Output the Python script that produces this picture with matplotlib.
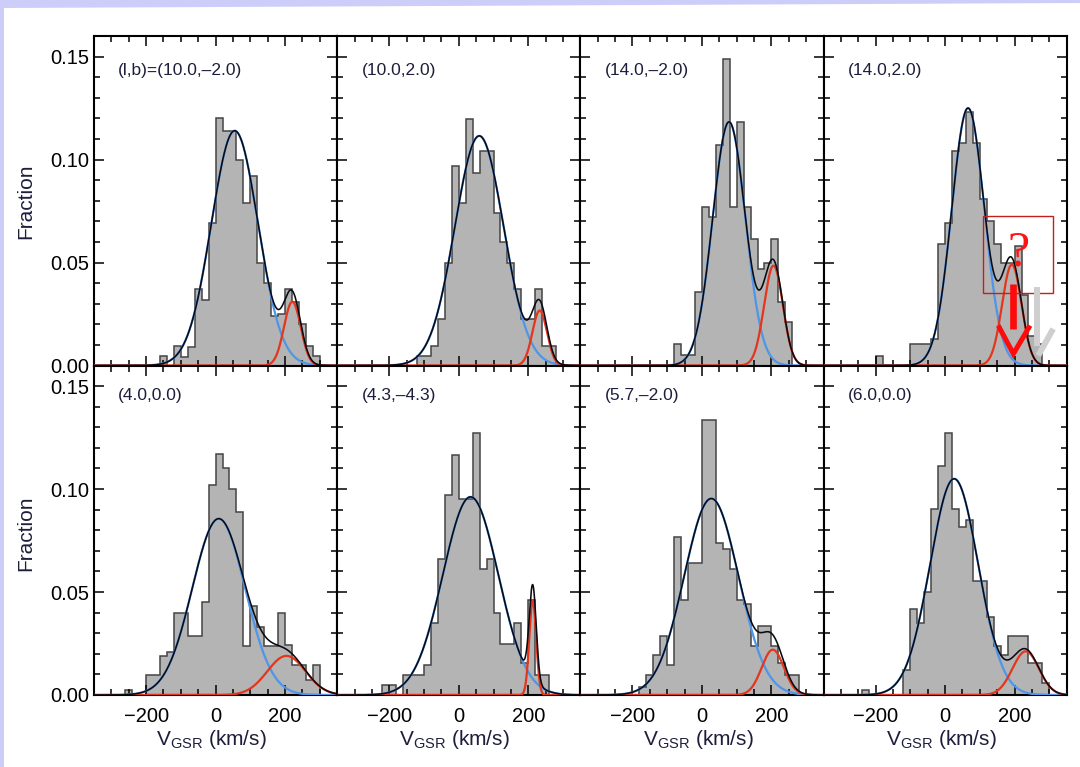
import numpy as np
import matplotlib
matplotlib.use("Agg")
import matplotlib.pyplot as plt
from matplotlib.patches import Rectangle, Polygon
from matplotlib.ticker import MultipleLocator, FormatStrFormatter

plt.rcParams['font.family'] = ['Liberation Sans', 'DejaVu Sans']
plt.rcParams['mathtext.fontset'] = 'custom'
plt.rcParams['mathtext.rm'] = 'Liberation Sans'
plt.rcParams['mathtext.it'] = 'Liberation Sans:italic'

# ---- field labels, (l,b) in degrees ----
labels = ["(l,b)=(10.0,\u20132.0)", "(10.0,2.0)", "(14.0,\u20132.0)", "(14.0,2.0)",
          "(4.0,0.0)", "(4.3,\u20134.3)", "(5.7,\u20132.0)", "(6.0,0.0)"]

BIN_WIDTH = 20.0  # km/s

# ---- velocity histograms (fraction per 20 km/s bin), first bin left edge ----
lo_10_m2 = -160
frac_10_m2 = [0.0045, 0.0, 0.0095, 0.004, 0.009, 0.037, 0.032, 0.069, 0.120, 0.114,
              0.114, 0.100, 0.079, 0.092, 0.050, 0.040, 0.024, 0.025, 0.037, 0.031,
              0.020, 0.0094, 0.0045]

lo_10_p2 = -120
frac_10_p2 = [0.0045, 0.0045, 0.0097, 0.0226, 0.050, 0.097, 0.079, 0.1196, 0.0937, 0.104,
              0.104, 0.074, 0.060, 0.050, 0.037, 0.0226, 0.0226, 0.037, 0.0094, 0.0094]

lo_14_m2 = -80
frac_14_m2 = [0.0105, 0.005, 0.005, 0.0355, 0.077, 0.072, 0.107, 0.149, 0.077, 0.118,
              0.077, 0.0614, 0.047, 0.050, 0.0614, 0.0307, 0.021]

lo_14_p2 = -200
frac_14_p2 = [0.0048, 0.0, 0.0, 0.0, 0.0, 0.0105, 0.0105, 0.0105, 0.013, 0.059,
              0.069, 0.104, 0.108, 0.123, 0.108, 0.081, 0.070, 0.059, 0.050, 0.050,
              0.058, 0.034, 0.0145, 0.0105]

lo_4_0 = -260
frac_4_0 = [0.0025, 0.0, 0.0, 0.0098, 0.0098, 0.019, 0.021, 0.040, 0.040, 0.0285,
            0.0285, 0.045, 0.102, 0.117, 0.110, 0.100, 0.089, 0.0236, 0.043, 0.033,
            0.0236, 0.0236, 0.040, 0.0245, 0.0147, 0.0147, 0.0073, 0.0147]

lo_43_m43 = -220
frac_43_m43 = [0.005, 0.005, 0.0, 0.0098, 0.0098, 0.0098, 0.0147, 0.035, 0.066, 0.097,
               0.1166, 0.095, 0.095, 0.127, 0.061, 0.066, 0.040, 0.025, 0.025, 0.035,
               0.0155, 0.046, 0.0098, 0.0098]

lo_57_m2 = -180
frac_57_m2 = [0.004, 0.0098, 0.0196, 0.0285, 0.0147, 0.0766, 0.046, 0.064, 0.064, 0.1337,
              0.1337, 0.074, 0.071, 0.061, 0.046, 0.044, 0.0236, 0.0334, 0.0334, 0.0236,
              0.0155, 0.0098, 0.0098]

lo_6_0 = -240
frac_6_0 = [0.0025, 0.0, 0.0, 0.0, 0.0, 0.0, 0.012, 0.042, 0.035, 0.050,
            0.0905, 0.111, 0.127, 0.0905, 0.0815, 0.0848, 0.0555, 0.0555, 0.038, 0.0236,
            0.0196, 0.0285, 0.0285, 0.0285, 0.0155, 0.0155, 0.006]

# ---- two-Gaussian fits: (amplitude, mean km/s, sigma km/s) ----
main_amp = [0.114, 0.1115, 0.1183, 0.125, 0.0856, 0.0962, 0.0954, 0.105]
main_mu = [55, 59, 78, 66, 9, 34, 27, 26]
main_sig = [67, 70, 47, 47, 76, 80, 78, 69]
cold_amp = [0.031, 0.0267, 0.0485, 0.049, 0.019, 0.0457, 0.022, 0.0212]
cold_mu = [221, 233, 206, 192, 204, 213, 204, 232]
cold_sig = [24, 21, 27, 28, 55, 10, 32, 38]

hist_lo = [lo_10_m2, lo_10_p2, lo_14_m2, lo_14_p2, lo_4_0, lo_43_m43, lo_57_m2, lo_6_0]
hist_frac = [frac_10_m2, frac_10_p2, frac_14_m2, frac_14_p2,
             frac_4_0, frac_43_m43, frac_57_m2, frac_6_0]

FILL = '#b4b4b4'
EDGE = '#444444'
BLUE = '#4f95e8'
RED = '#e2371c'
TXT = '#1e1e3c'

W, H = 1080, 767
fig = plt.figure(figsize=(W / 100, H / 100), dpi=100)

# slide frame: lavender strip along the top and left edges
fig.patches.append(Rectangle((0, 0), 1, 1, transform=fig.transFigure,
                             facecolor='#cdcdfa', edgecolor='none', zorder=-10))
fig.patches.append(Polygon([(4 / W, 0), (4 / W, 1 - 8 / H), (1, 1 - 3 / H), (1, 0)],
                           closed=True, transform=fig.transFigure,
                           facecolor='white', edgecolor='none', zorder=-9))

gs = fig.add_gridspec(2, 4, left=94 / W, right=1066.7 / W, top=1 - 36 / H,
                      bottom=1 - 695 / H, wspace=0, hspace=0)

vgrid = np.linspace(-350, 350, 1401)


def gauss(v, a, m, s):
    return a * np.exp(-0.5 * ((v - m) / s) ** 2)


axes = []
for i in range(8):
    r, c = divmod(i, 4)
    ax = fig.add_subplot(gs[r, c])
    axes.append(ax)

    vals = np.asarray(hist_frac[i])
    edges = hist_lo[i] + BIN_WIDTH * np.arange(len(vals) + 1)
    ax.stairs(vals, edges, fill=True, facecolor=FILL, edgecolor='none', zorder=1)
    ax.stairs(vals, edges, fill=False, color=EDGE, lw=1.1, baseline=0, zorder=1.5)

    g1 = gauss(vgrid, main_amp[i], main_mu[i], main_sig[i])
    g2 = gauss(vgrid, cold_amp[i], cold_mu[i], cold_sig[i])
    ax.plot(vgrid, g1, color=BLUE, lw=1.6, zorder=3)
    ax.plot(vgrid, g2, color=RED, lw=1.6, zorder=3)
    ax.plot(vgrid, g1 + g2, color='#0a0a14', lw=1.15, zorder=4)

    ax.set_xlim(-350, 350)
    ax.set_ylim(0, 0.16)
    ax.xaxis.set_major_locator(MultipleLocator(200))
    ax.xaxis.set_minor_locator(MultipleLocator(50))
    ax.yaxis.set_major_locator(MultipleLocator(0.05))
    ax.yaxis.set_minor_locator(MultipleLocator(0.01))
    ax.yaxis.set_major_formatter(FormatStrFormatter('%.2f'))
    ax.tick_params(which='both', direction='in', top=True, right=True,
                   width=1.1, colors='black', labelsize=14.5)
    ax.tick_params(which='major', length=7.5)
    ax.tick_params(which='minor', length=4.2)
    ax.tick_params(axis='x', pad=9)
    ax.tick_params(axis='y', pad=3.5)
    ax.tick_params(labelbottom=(r == 1), labelleft=(c == 0))
    for sp in ax.spines.values():
        sp.set_linewidth(1.5)
        sp.set_zorder(2.5)

    ax.text(0.10, 0.895 if r == 0 else 0.91, labels[i], transform=ax.transAxes,
            ha='left', va='center', fontsize=12.5, color=TXT)

# axis titles
for yc in (201, 533):
    fig.text(26 / W, 1 - yc / H, 'Fraction', rotation=90, ha='center', va='center',
             fontsize=15, color=TXT)
for c in range(4):
    pos = axes[4 + c].get_position()
    fig.text(0.5 * (pos.x0 + pos.x1) - 4 / W, 1 - 745 / H, r'V$_{\rm GSR}$ (km/s)',
             ha='center', va='baseline', fontsize=15, color=TXT)

# question mark over the second peak of the (14.0,2.0) field
ax4 = axes[3]
ax4.add_patch(Rectangle((110, 0.0351), 202, 0.0376, fill=False, edgecolor='#c41e1e',
                        lw=1.0, zorder=6, clip_on=False))
ax4.text(210, 0.0545, '?', color='#ff1414', fontsize=36, ha='center', va='center',
         family=['Liberation Serif', 'DejaVu Serif'], zorder=7)
ax4.plot([196.5, 196.5], [0.0396, 0.0175], color='#ff0a0a', lw=4.8,
         solid_capstyle='butt', zorder=7)
ax4.plot([153, 196.5, 244.5], [0.0194, 0.0057, 0.0194], color='#ff0a0a', lw=3.6,
         solid_joinstyle='miter', solid_capstyle='butt', zorder=7)
ax4.plot([265, 265], [0.038, 0.0097], color='#cfcfcf', lw=4.3,
         solid_capstyle='butt', zorder=6)
ax4.plot([268, 311], [0.0048, 0.0178], color='#cfcfcf', lw=4.3,
         solid_capstyle='butt', zorder=6)

fig.savefig('out.png', dpi=100)
